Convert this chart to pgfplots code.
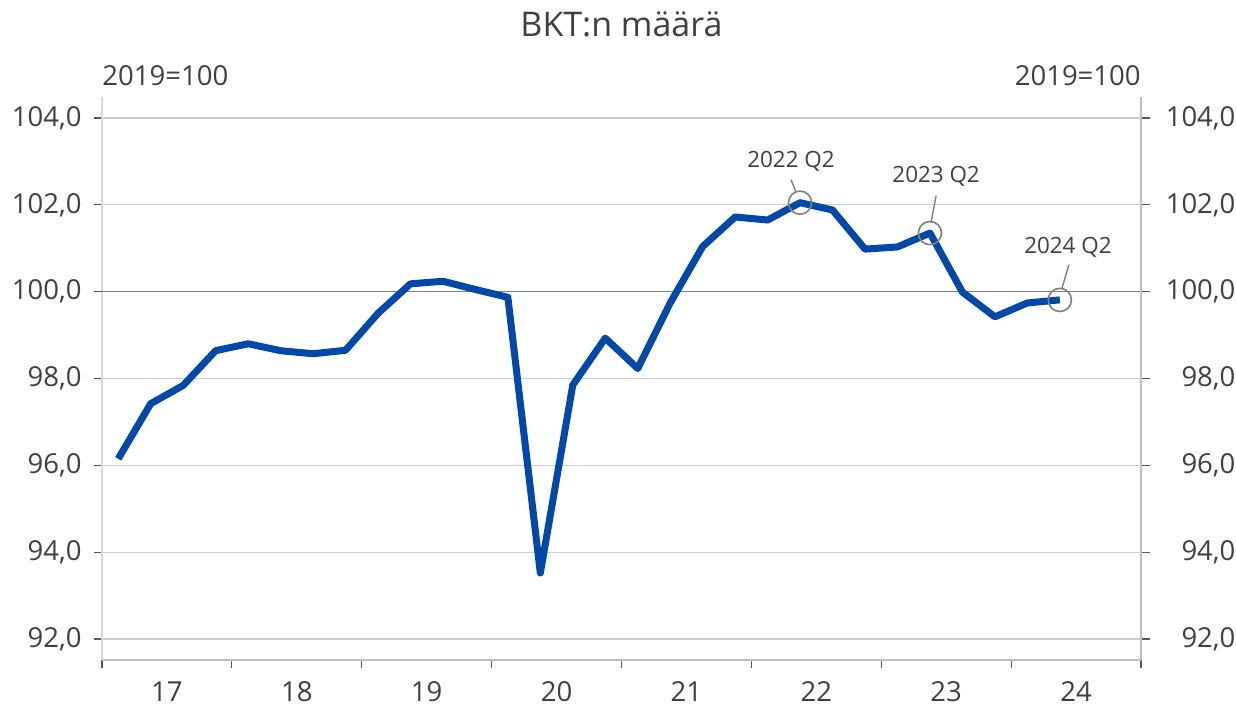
\documentclass[border=0pt]{standalone}
\usepackage{fontspec}
\setmainfont{Open Sans}
\usepackage{pgfplots}
\pgfplotsset{compat=1.18}
\definecolor{txt}{RGB}{64,64,64}
\definecolor{bline}{RGB}{0,72,170}
\definecolor{gridc}{RGB}{205,205,205}
\definecolor{hundred}{RGB}{128,128,128}
\definecolor{laxis}{RGB}{217,217,217}
\definecolor{raxis}{RGB}{191,191,191}
\definecolor{tickc}{RGB}{89,89,89}
\newcommand{\ticksize}{\fontsize{13.75}{16}\selectfont}
\pgfplotstableread{
i v
0 96.15
1 97.42
2 97.84
3 98.64
4 98.80
5 98.64
6 98.57
7 98.65
8 99.50
9 100.18
10 100.24
11 100.05
12 99.87
13 93.52
14 97.85
15 98.93
16 98.23
17 99.74
18 101.04
19 101.72
20 101.65
21 102.05
22 101.88
23 100.98
24 101.03
25 101.35
26 99.99
27 99.42
28 99.74
29 99.81
}\gdp
\begin{document}
\begin{tikzpicture}
\path (-51pt,-22.5pt) rectangle (567pt,330pt);
\begin{axis}[
  scale only axis, width=519.5pt, height=281.5pt,
  xmin=-0.5, xmax=31.5, ymin=91.516, ymax=104.484,
  axis x line*=bottom, axis y line*=left,
  x axis line style={raxis, line width=0.6pt},
  y axis line style={laxis, line width=0.6pt},
  tick align=outside,
  xtick={-0.5,3.5,...,31.5}, xticklabels={},
  major x tick style={tickc, line width=0.6pt},
  major tick length=4pt,
  extra x ticks={1.5,5.5,...,29.5},
  extra x tick labels={17,18,19,20,21,22,23,24},
  extra x tick style={major tick length=0pt, grid=none},
  xticklabel style={anchor=base, yshift=-21pt, font=\ticksize, text=txt},
  ytick={92,94,...,104},
  y tick style={tickc, line width=0.6pt},
  ymajorgrids, grid style={gridc, line width=0.6pt},
  extra y ticks={100}, extra y tick labels={},
  extra y tick style={grid style={hundred, line width=0.8pt}, major tick length=4pt},
  yticklabel style={anchor=east, inner sep=0pt, xshift=-6pt, font=\ticksize, text=txt},
  /pgf/number format/.cd, use comma, fixed, fixed zerofill, precision=1, 1000 sep={}, assume math mode=true,
  /pgfplots/.cd,
  title={BKT:n määrä},
  title style={at={(0.5,1)}, anchor=base, yshift=24pt, font=\fontsize{17}{20}\selectfont, text=txt, inner sep=0pt},
  clip=false,
]
\addplot[bline, line width=3.5pt, line join=round] table[x=i, y=v] {\gdp};
\addplot[only marks, mark=o, mark size=5.8pt, mark options={draw=hundred, line width=0.8pt}] coordinates {(21,102.05) (25,101.35) (29,99.81)};
\draw[hundred, line width=0.7pt] (axis cs:20.72,102.58) -- (axis cs:20.87,102.30);
\draw[hundred, line width=0.7pt] (axis cs:25.19,102.21) -- (axis cs:25.03,101.58);
\draw[hundred, line width=0.7pt] (axis cs:29.28,100.62) -- (axis cs:29.07,100.09);
\node[anchor=base, inner sep=0pt, text=txt, font=\fontsize{11.2}{13}\selectfont] at (axis cs:20.72,102.87) {2022 Q2};
\node[anchor=base, inner sep=0pt, text=txt, font=\fontsize{11.2}{13}\selectfont] at (axis cs:25.19,102.51) {2023 Q2};
\node[anchor=base, inner sep=0pt, text=txt, font=\fontsize{11.2}{13}\selectfont] at (axis cs:29.25,100.89) {2024 Q2};
\node[anchor=base west, inner sep=0pt, text=txt, font=\ticksize] at ([yshift=5.5pt]rel axis cs:0,1) {2019=100};
\node[anchor=base east, inner sep=0pt, text=txt, font=\ticksize] at ([yshift=5.5pt]rel axis cs:1,1) {2019=100};
\end{axis}
\begin{axis}[
  scale only axis, width=519.5pt, height=281.5pt,
  xmin=-0.5, xmax=31.5, ymin=91.516, ymax=104.484,
  axis x line=none, axis y line*=right,
  y axis line style={raxis, line width=0.6pt},
  tick align=outside,
  ytick={92,94,...,104},
  y tick style={tickc, line width=0.6pt},
  major tick length=4.5pt,
  yticklabel style={anchor=west, inner sep=0pt, xshift=7.5pt, text width=35pt, align=right, font=\ticksize, text=txt},
  /pgf/number format/.cd, use comma, fixed, fixed zerofill, precision=1, 1000 sep={}, assume math mode=true,
]
\end{axis}
\end{tikzpicture}
\end{document}
